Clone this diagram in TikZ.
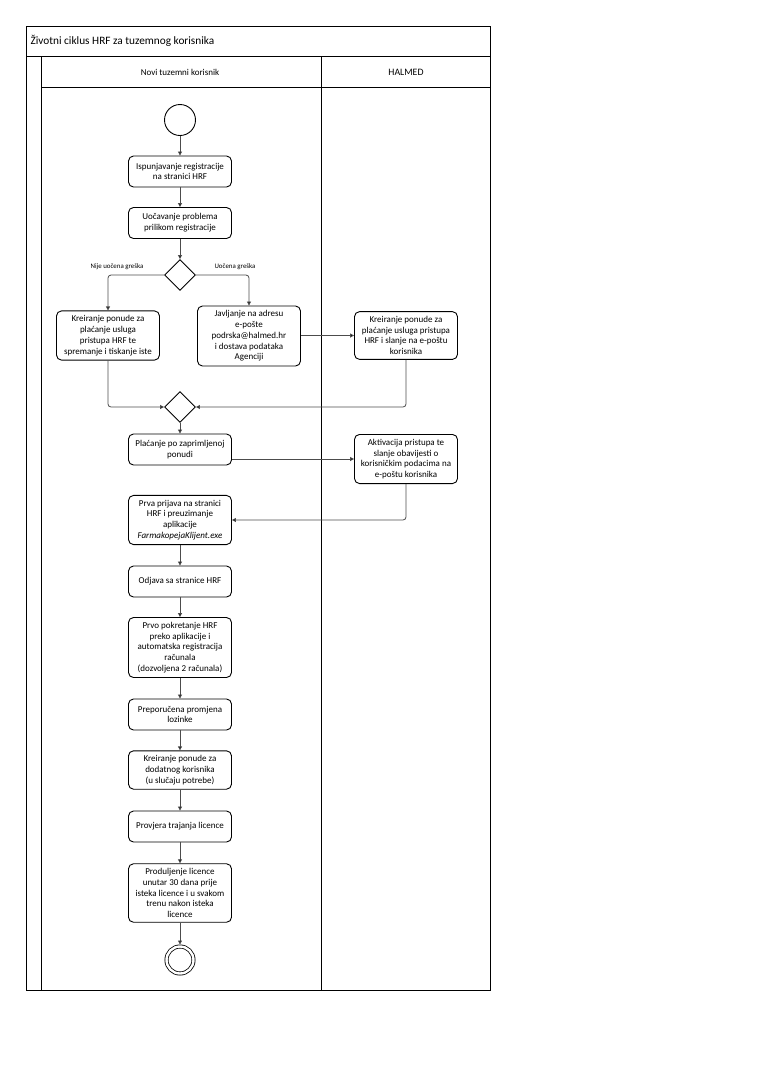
\documentclass[tikz,border=0pt]{standalone}
\usepackage{fontspec}
\setmainfont{Carlito}
\usetikzlibrary{arrows.meta,shapes.geometric}

\begin{document}
\begin{tikzpicture}[x=1pt, y=-1pt,
    every node/.style={font=\fontsize{9}{10.8}\selectfont},
    act/.style={draw=black, line width=0.9pt, rounded corners=5pt, align=center,
      minimum width=103pt, minimum height=31pt, inner xsep=2pt, inner ysep=4.5pt},
    dec/.style={draw=black, line width=0.9pt, diamond, minimum size=31pt, inner sep=0pt},
    lbl/.style={font=\fontsize{6.9}{8}\selectfont},
    flow/.style={draw=black!70, line width=0.8pt, rounded corners=3pt,
      -{Triangle[length=4pt,width=4pt,fill=black]}}]
  \useasboundingbox (0,0) rectangle (763,1080);

  % swimlanes
  \draw[line width=0.9pt] (26,26) rectangle (490,990);
  \draw[line width=0.9pt] (26,56) -- (490,56);
  \draw[line width=0.9pt] (41,56) -- (41,990);
  \draw[line width=0.9pt] (41,87) -- (490,87);
  \draw[line width=0.9pt] (321,56) -- (321,990);
  \node[anchor=west, font=\fontsize{11.3}{13}\selectfont] (title) at (27,41) {Životni ciklus HRF za tuzemnog korisnika};
  \node (lane1) at (180,72) {Novi tuzemni korisnik};
  \node[font=\fontsize{9.8}{11}\selectfont] (lane2) at (406,72) {HALMED};

  \node (start) at (180,120) [draw=black, line width=0.9pt, circle, minimum size=31pt] {};

  \node (ispun) at (180,171.5) [act] {Ispunjavanje registracije\\na stranici HRF};
  \draw[flow] (start) -- (ispun);

  \node (uocav) at (180,223) [act] {Uočavanje problema\\prilikom registracije};
  \draw[flow] (ispun) -- (uocav);

  \node (dec1) at (180,275) [dec] {};
  \draw[flow] (uocav) -- (dec1);
  \node (nije) at (117,267) [lbl] {Nije uočena greška};
  \node (uoc) at (235,267) [lbl] {Uočena greška};

  \node (kreir1) at (108,335.5) [act] {Kreiranje ponude za\\plaćanje usluga\\pristupa HRF te\\spremanje i tiskanje iste};
  \draw[flow] (dec1.west) -| (kreir1);

  \node (javlj) at (249,336) [act] {Javljanje na adresu\\e-pošte\\podrska@halmed.hr\\i dostava podataka\\Agenciji};
  \draw[flow] (dec1.east) -| (javlj);

  \node (kreir2) at (406,335.5) [act] {Kreiranje ponude za\\plaćanje usluga pristupa\\HRF i slanje na e-poštu\\korisnika};
  \draw[flow] (javlj.east |- kreir2) -- (kreir2);

  \node (dec2) at (180,407) [dec] {};
  \draw[flow] (kreir1) |- (dec2);
  \draw[flow] (kreir2) |- (dec2);

  \node (placa) at (180,449.5) [act] {Plaćanje po zaprimljenoj\\ponudi};
  \draw[flow] (dec2) -- (placa);

  \node (aktiv) at (406,459) [act] {Aktivacija pristupa te\\slanje obavijesti o\\korisničkim podacima na\\e-poštu korisnika};
  \draw[flow] (placa.east |- aktiv) -- (aktiv);

  \node (prva) at (180,520) [act] {Prva prijava na stranici\\HRF i preuzimanje\\aplikacije\\\textit{FarmakopejaKlijent.exe}};
  \draw[flow] (aktiv) |- (prva);

  \node (odjava) at (180,581.5) [act] {Odjava sa stranice HRF};
  \draw[flow] (prva) -- (odjava);

  \node (pokret) at (180,647.5) [act] {Prvo pokretanje HRF\\preko aplikacije i\\automatska registracija\\računala\\(dozvoljena 2 računala)};
  \draw[flow] (odjava) -- (pokret);

  \node (lozin) at (180,714.5) [act] {Preporučena promjena\\lozinke};
  \draw[flow] (pokret) -- (lozin);

  \node (dodat) at (180,770) [act] {Kreiranje ponude za\\dodatnog korisnika\\(u slučaju potrebe)};
  \draw[flow] (lozin) -- (dodat);

  \node (provj) at (180,826.5) [act] {Provjera trajanja licence};
  \draw[flow] (dodat) -- (provj);

  \node (produlj) at (180,893) [act] {Produljenje licence\\unutar 30 dana prije\\isteka licence i u svakom\\trenu nakon isteka\\licence};
  \draw[flow] (provj) -- (produlj);

  \node (end) at (180,960) [draw=black, line width=0.8pt, circle, double, double distance=2.4pt, minimum size=27pt, outer sep=2pt] {};
  \draw[flow] (produlj) -- (end);
\end{tikzpicture}
\end{document}
